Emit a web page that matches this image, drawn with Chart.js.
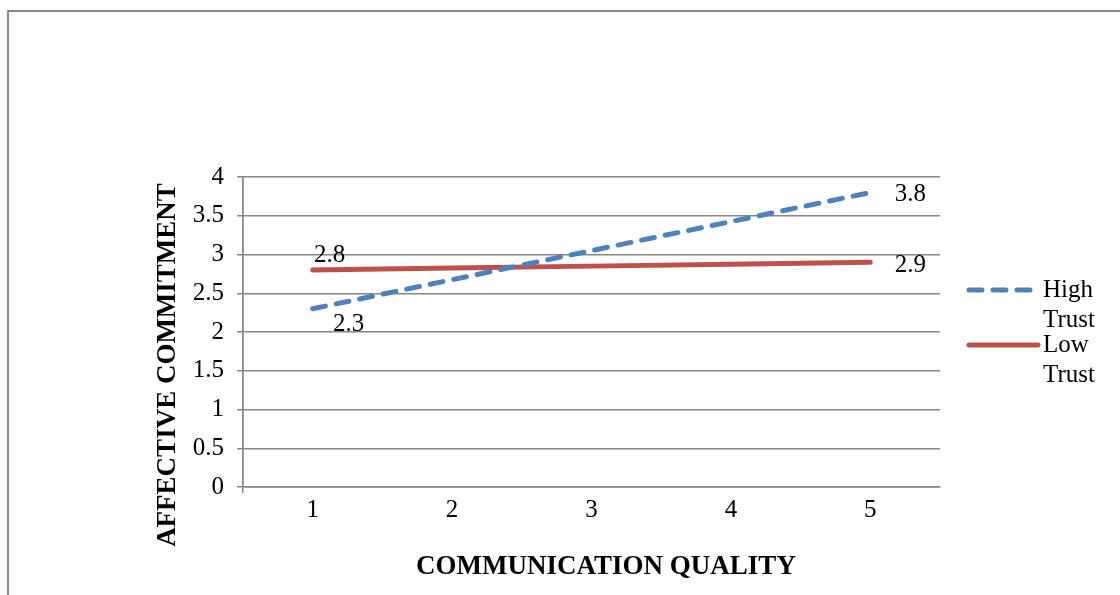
<!DOCTYPE html>
<html><head><meta charset="utf-8">
<script src="https://cdn.jsdelivr.net/npm/chart.js@4/dist/chart.umd.min.js"></script>
<style>html,body{margin:0;padding:0;background:#fff}#wrap{width:1120px;height:595px;position:relative}</style>
</head><body><div id="wrap"><canvas id="c" width="1120" height="595"></canvas></div>
<script>
// ---- data ----
const categories = ['1', '2', '3', '4', '5'];
const highTrust = [2.3, 2.675, 3.05, 3.425, 3.8];
const lowTrust = [2.8, 2.825, 2.85, 2.875, 2.9];
const seriesNames = [['High', 'Trust'], ['Low', 'Trust']];
const yMin = 0, yMax = 4, yStep = 0.5;
const xTitle = 'COMMUNICATION QUALITY';
const yTitle = 'AFFECTIVE COMMITMENT';
const labelledIndexes = [0, 4];

// ---- style ----
const FONT = '"Liberation Serif", "Times New Roman", serif';
const GRID = '#868686';
const BLUE = '#4F81BD';
const RED = '#C0504D';
const TXT = 25;

const labelOffsets = [ // per dataset, per labelled index: [dx, dy]
  {0: [36, 16], 4: [40, 2]},
  {0: [17, -15], 4: [40, 3]}
];

const framePlugin = {
  id: 'frame',
  beforeDraw(chart) {
    const ctx = chart.ctx;
    ctx.save();
    ctx.strokeStyle = '#8a8a8a';
    ctx.lineWidth = 2;
    ctx.beginPath();
    ctx.moveTo(8, 595);
    ctx.lineTo(8, 11);
    ctx.lineTo(1120, 11);
    ctx.stroke();
    ctx.restore();
  }
};

const titlePlugin = {
  id: 'axisTitles',
  afterDraw(chart) {
    const ctx = chart.ctx;
    ctx.save();
    ctx.fillStyle = '#000';
    ctx.font = 'bold 27px ' + FONT;
    ctx.textAlign = 'center';
    ctx.textBaseline = 'middle';
    ctx.fillText(xTitle, 606, 567);
    ctx.translate(168, 365);
    ctx.rotate(-Math.PI / 2);
    ctx.fillText(yTitle, 0, 0);
    ctx.restore();
  }
};

const dataLabelPlugin = {
  id: 'dataLabels',
  afterDatasetsDraw(chart) {
    const ctx = chart.ctx;
    ctx.save();
    ctx.fillStyle = '#000';
    ctx.font = TXT + 'px ' + FONT;
    ctx.textAlign = 'center';
    ctx.textBaseline = 'middle';
    chart.data.datasets.forEach((ds, di) => {
      const meta = chart.getDatasetMeta(di);
      labelledIndexes.forEach(i => {
        const el = meta.data[i];
        const off = labelOffsets[di][i] || [0, 0];
        ctx.fillText(String(ds.data[i]), el.x + off[0], el.y + off[1]);
      });
    });
    ctx.restore();
  }
};

const legendPlugin = {
  id: 'customLegend',
  afterDraw(chart) {
    const ctx = chart.ctx;
    const rows = [{y: 290, x2: 1030}, {y: 345, x2: 1038}];
    ctx.save();
    chart.data.datasets.forEach((ds, di) => {
      const r = rows[di];
      ctx.strokeStyle = ds.borderColor;
      ctx.lineWidth = ds.borderWidth;
      ctx.lineCap = 'round';
      ctx.setLineDash(ds.borderDash || []);
      ctx.beginPath();
      ctx.moveTo(969, r.y);
      ctx.lineTo(r.x2, r.y);
      ctx.stroke();
      ctx.setLineDash([]);
      ctx.fillStyle = '#000';
      ctx.font = TXT + 'px ' + FONT;
      ctx.textAlign = 'left';
      ctx.textBaseline = 'middle';
      seriesNames[di].forEach((t, li) => ctx.fillText(t, 1043, r.y + li * 30));
    });
    ctx.restore();
  }
};

new Chart(document.getElementById('c'), {
  type: 'line',
  data: {
    labels: categories,
    datasets: [
      {label: seriesNames[0].join(' '), data: highTrust, borderColor: BLUE, backgroundColor: BLUE,
       borderWidth: 5, borderDash: [13, 11], borderCapStyle: 'round', pointRadius: 0, tension: 0, fill: false},
      {label: seriesNames[1].join(' '), data: lowTrust, borderColor: RED, backgroundColor: RED,
       borderWidth: 5, borderCapStyle: 'round', pointRadius: 0, tension: 0, fill: false}
    ]
  },
  options: {
    responsive: false,
    devicePixelRatio: 1,
    animation: false,
    layout: {padding: {left: 0, top: 177, right: 180, bottom: 0}},
    plugins: {legend: {display: false}, tooltip: {enabled: false}, title: {display: false}},
    scales: {
      x: {
        offset: true,
        grid: {
          offset: true,
          color: c => (c.index === 0 || c.index === categories.length) ? GRID : 'rgba(0,0,0,0)',
          lineWidth: 1.5,
          tickLength: 6
        },
        border: {color: GRID, width: 1.5},
        ticks: {color: '#000', font: {family: FONT, size: TXT}, padding: 2, maxRotation: 0},
        afterFit(s) { s.height = 108; }
      },
      y: {
        min: yMin, max: yMax,
        grid: {color: GRID, lineWidth: 1.5, tickLength: 6},
        border: {color: GRID, width: 1.5},
        ticks: {stepSize: yStep, color: '#000', font: {family: FONT, size: TXT}, padding: 13,
                callback: v => String(Math.round(v * 10) / 10)},
        afterFit(s) { s.width = 243; }
      }
    }
  },
  plugins: [framePlugin, dataLabelPlugin, titlePlugin, legendPlugin]
});
</script></body></html>
